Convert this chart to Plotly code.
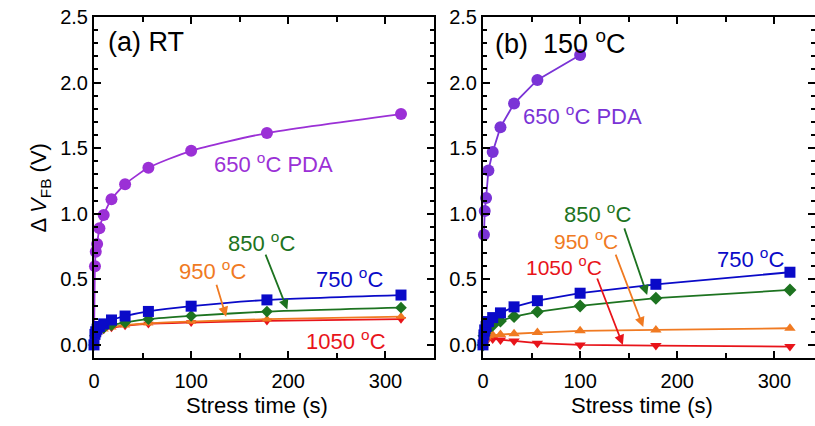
import plotly.graph_objects as go

# ---------------- data ----------------
t_full = [0, 1, 1.8, 3.2, 5.6, 10, 18, 32, 56, 100, 178, 316]
t_pda = [1, 1.8, 3.2, 5.6, 10, 18, 32, 56, 100, 178, 316]
t_pda_b = [1, 1.8, 3.2, 5.6, 10, 18, 32, 56, 100]

# (a) RT
a_650 = [0.60, 0.71, 0.77, 0.89, 0.99, 1.11, 1.225, 1.35, 1.48, 1.615, 1.76]
a_750 = [0.0, 0.08, 0.10, 0.12, 0.14, 0.16, 0.19, 0.22, 0.255, 0.295, 0.343, 0.38]
a_850 = [0.0, 0.07, 0.09, 0.10, 0.12, 0.13, 0.15, 0.17, 0.196, 0.221, 0.254, 0.284]
a_950 = [0.0, 0.06, 0.08, 0.09, 0.11, 0.12, 0.135, 0.15, 0.165, 0.178, 0.196, 0.216]
a_1050 = [0.0, 0.05, 0.07, 0.085, 0.10, 0.115, 0.13, 0.145, 0.16, 0.17, 0.183, 0.196]

# (b) 150 C
b_650 = [0.84, 1.02, 1.12, 1.33, 1.47, 1.66, 1.84, 2.02, 2.21]
b_750 = [0.0, 0.076, 0.114, 0.14, 0.178, 0.208, 0.244, 0.29, 0.337, 0.394, 0.462, 0.554]
b_850 = [0.0, 0.07, 0.09, 0.11, 0.13, 0.15, 0.183, 0.216, 0.252, 0.297, 0.356, 0.419]
b_950 = [0.0, 0.04, 0.05, 0.06, 0.07, 0.075, 0.08, 0.085, 0.094, 0.107, 0.114, 0.127]
b_1050 = [0.0, 0.035, 0.04, 0.045, 0.05, 0.045, 0.038, 0.03, 0.013, 0.0, -0.005, -0.013]

FONT = "Liberation Sans, Arial, sans-serif"
C_PUR_A = "#9b30d6"
C_PUR_B = "#7a33d6"
C_BLUE = "#0a0ac8"
C_GREEN = "#1d7320"
C_ORANGE = "#f07a22"
C_RED = "#e8141a"

fig = go.Figure()

def add(x, y, color, symbol, size, xa, ya, shape):
    fig.add_trace(go.Scatter(
        x=x, y=y, mode="lines+markers", xaxis=xa, yaxis=ya,
        line=dict(color=color, width=1.8, shape=shape, smoothing=0.6),
        marker=dict(color=color, symbol=symbol, size=size),
        showlegend=False, cliponaxis=False))

# panel (a): smooth fit-like curves
fig.add_trace(go.Scatter(x=[0] + t_pda, y=[0] + a_650, mode="lines", xaxis="x", yaxis="y",
                         line=dict(color=C_PUR_A, width=1.8, shape="spline", smoothing=0.6),
                         showlegend=False))
fig.add_trace(go.Scatter(x=t_pda, y=a_650, mode="markers", xaxis="x", yaxis="y",
                         marker=dict(color=C_PUR_A, symbol="circle", size=12),
                         showlegend=False, cliponaxis=False))
add(t_full, a_1050, C_RED, "triangle-down", 9, "x", "y", "spline")
add(t_full, a_950, C_ORANGE, "triangle-up", 9, "x", "y", "spline")
add(t_full, a_850, C_GREEN, "diamond", 9, "x", "y", "spline")
add(t_full, a_750, C_BLUE, "square", 11, "x", "y", "spline")

# panel (b): straight segments
add(t_pda_b, b_650, C_PUR_B, "circle", 12, "x2", "y2", "linear")
add(t_full, b_1050, C_RED, "triangle-down", 10, "x2", "y2", "linear")
add(t_full, b_950, C_ORANGE, "triangle-up", 10, "x2", "y2", "linear")
add(t_full, b_850, C_GREEN, "diamond", 10, "x2", "y2", "linear")
add(t_full, b_750, C_BLUE, "square", 11, "x2", "y2", "linear")

axis_common = dict(showline=True, linecolor="black", linewidth=2, mirror="ticks",
                   ticks="inside", ticklen=7, tickwidth=1.5, tickcolor="black",
                   showgrid=False, zeroline=False, automargin=False,
                   tickfont=dict(family=FONT, size=20, color="black"))

fig.update_layout(
    width=815, height=426,
    margin=dict(l=94, r=0, t=17, b=68),
    paper_bgcolor="white", plot_bgcolor="white",
    font=dict(family=FONT, color="black"),
    xaxis=dict(domain=[0, 0.4716], range=[0, 350], dtick=100, ticklabelstandoff=4,
               minor=dict(dtick=50, ticks="inside", ticklen=5, tickcolor="black"),
               **axis_common),
    yaxis=dict(range=[-0.1, 2.5], dtick=0.5, tickformat=".1f", anchor="x",
               minor=dict(dtick=0.1, ticks="inside", ticklen=4, tickcolor="black"),
               **axis_common),
    xaxis2=dict(domain=[0.5395, 1.0], range=[0, 341.8], dtick=100, anchor="y2",
                ticklabelstandoff=4,
                minor=dict(dtick=50, ticks="inside", ticklen=5, tickcolor="black"),
                **axis_common),
    yaxis2=dict(range=[-0.1, 2.5], dtick=0.5, tickformat=".1f", anchor="x2",
                minor=dict(dtick=0.1, ticks="inside", ticklen=4, tickcolor="black"),
                **axis_common),
)

# axis titles as annotations
fig.add_annotation(x=0.2254, y=-0.138, xref="paper", yref="paper", showarrow=False,
                   text="Stress time (s)", xanchor="center", yanchor="middle",
                   font=dict(family=FONT, size=22, color="black"))
fig.add_annotation(x=0.7600, y=-0.138, xref="paper", yref="paper", showarrow=False,
                   text="Stress time (s)", xanchor="center", yanchor="middle",
                   font=dict(family=FONT, size=22, color="black"))
fig.add_annotation(x=-0.0749, y=0.5, xref="paper", yref="paper", showarrow=False,
                   text="Δ <i>V</i><sub>FB</sub> (V)", textangle=-90,
                   xanchor="center", yanchor="middle",
                   font=dict(family=FONT, size=22, color="black"))

def txt(x, y, s, color, xr, yr, size=22, xanchor="center"):
    fig.add_annotation(x=x, y=y, text=s, xref=xr, yref=yr, showarrow=False,
                       xanchor=xanchor, yanchor="middle",
                       font=dict(family=FONT, size=size, color=color))

def arrow(xt, yt, xh, yh, color, xr, yr):
    fig.add_annotation(x=xh, y=yh, ax=xt, ay=yt, xref=xr, yref=yr, axref=xr, ayref=yr,
                       text="", showarrow=True, arrowhead=2, arrowsize=1.1,
                       arrowwidth=1.8, arrowcolor=color)

DEG = "<sup>o</sup>C"
# panel (a)
txt(12, 2.31, "(a) RT", "black", "x", "y", size=27, xanchor="left")
txt(185, 1.39, "650 " + DEG + " PDA", C_PUR_A, "x", "y")
txt(172, 0.785, "850 " + DEG, C_GREEN, "x", "y")
arrow(176, 0.70, 199, 0.27, C_GREEN, "x", "y")
txt(122, 0.572, "950 " + DEG, C_ORANGE, "x", "y")
arrow(125.6, 0.47, 136, 0.215, C_ORANGE, "x", "y")
txt(263, 0.511, "750 " + DEG, C_BLUE, "x", "y")
txt(259, 0.04, "1050 " + DEG, C_RED, "x", "y")

# panel (b)
txt(10, 2.31, "(b)  150 " + DEG, "black", "x2", "y2", size=27, xanchor="left")
txt(102, 1.753, "650 " + DEG + " PDA", C_PUR_B, "x2", "y2")
txt(118, 1.006, "850 " + DEG, C_GREEN, "x2", "y2")
arrow(145, 0.90, 169, 0.38, C_GREEN, "x2", "y2")
txt(106, 0.80, "950 " + DEG, C_ORANGE, "x2", "y2", size=21)
arrow(136, 0.70, 165, 0.137, C_ORANGE, "x2", "y2")
txt(83, 0.60, "1050 " + DEG, C_RED, "x2", "y2", size=21)
arrow(117, 0.518, 144, 0.0, C_RED, "x2", "y2")
txt(275, 0.663, "750 " + DEG, C_BLUE, "x2", "y2")

fig.write_html("out.html", config={"displayModeBar": False},
               post_script="document.body.style.margin='0';document.body.style.overflow='hidden';")
